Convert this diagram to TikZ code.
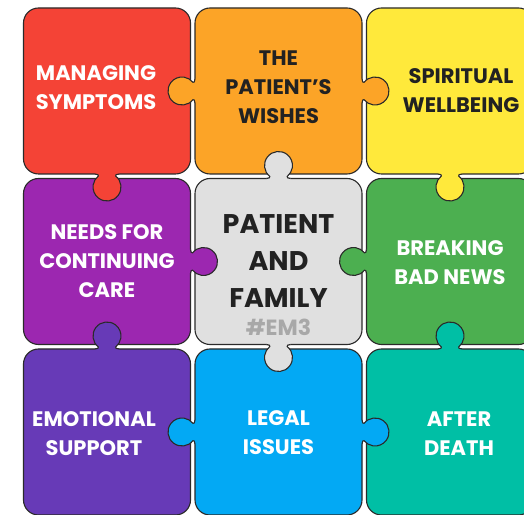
\documentclass[tikz,border=0pt]{standalone}
\usepackage{fontspec}
\setmainfont{Poppins}
\usepackage{tikz}
\usetikzlibrary{positioning}
\usepackage{xcolor}

\definecolor{piecered}{HTML}{F44336}
\definecolor{pieceorange}{HTML}{FCA427}
\definecolor{pieceyellow}{HTML}{FFE93B}
\definecolor{piecepurple}{HTML}{9C27B0}
\definecolor{piecegrey}{HTML}{E0E0E0}
\definecolor{piecegreen}{HTML}{4CAF50}
\definecolor{piecedeep}{HTML}{673AB7}
\definecolor{pieceblue}{HTML}{03A9F4}
\definecolor{pieceteal}{HTML}{00BFA5}
\definecolor{edgedark}{HTML}{2A2A2A}
\definecolor{textdark}{HTML}{222222}
\definecolor{taggrey}{HTML}{A8A8A8}

% tab sticking out of a piece: colour, anchor on the edge, rotation
\newcommand{\knob}[3]{%
  \begin{scope}[shift={(#2)}, rotate=#3]
    \fill[#1] (-12,-2) -- (-12,0) .. controls (-10,0) and (-7.5,1.1) .. (-8.66,2)
      arc[start angle=231.8, end angle=-51.8, radius=14]
      .. controls (7.5,1.1) and (10,0) .. (12,0) -- (12,-2) -- cycle;
    \draw[outline] (-12,0) .. controls (-10,0) and (-7.5,1.1) .. (-8.66,2)
      arc[start angle=231.8, end angle=-51.8, radius=14]
      .. controls (7.5,1.1) and (10,0) .. (12,0);
  \end{scope}}

\begin{document}
\begin{tikzpicture}[
    x=1pt, y=1pt,
    outline/.style={draw=edgedark, line width=1.1pt},
    piece/.style={
        rounded corners=15pt,
        outline,
        fill=#1,
        minimum width=167pt,
        minimum height=166pt,
        inner sep=0pt,
        outer sep=0pt,
    },
    lbl/.style={
        font=\bfseries\fontsize{21}{29}\selectfont,
        align=center,
        text=#1,
        inner sep=0pt,
    },
]

\useasboundingbox (0,0) rectangle (524,514);
\clip (0,0) rectangle (524,514);

% Pieces, row by row
\node[piece=piecered] (symptoms) at (107,423) {};
\node[piece=pieceorange, right=4.5pt of symptoms] (wishes) {};
\node[piece=pieceyellow, right=4.5pt of wishes] (spiritual) {};

\node[piece=piecepurple, below=4.5pt of symptoms] (care) {};
\node[piece=piecegrey, right=4.5pt of care] (patient) {};
\node[piece=piecegreen, right=4.5pt of patient] (badnews) {};

\node[piece=piecedeep, below=4.5pt of care] (emotional) {};
\node[piece=pieceblue, right=4.5pt of emotional] (legal) {};
\node[piece=pieceteal, right=4.5pt of legal] (afterdeath) {};

% Tabs
\knob{piecered}{symptoms.south}{180}
\knob{pieceorange}{wishes.west}{90}
\knob{pieceorange}{wishes.east}{-90}
\knob{pieceyellow}{spiritual.south}{180}
\knob{piecepurple}{care.east}{-90}
\knob{piecegrey}{patient.north}{0}
\knob{piecegrey}{patient.south}{180}
\knob{piecegreen}{badnews.west}{90}
\knob{piecedeep}{emotional.north}{0}
\knob{pieceblue}{legal.west}{90}
\knob{pieceblue}{legal.east}{-90}
\knob{pieceteal}{afterdeath.north}{0}

% Labels
\node[lbl=white] (symptoms-lbl) at ([xshift=-11pt, yshift=3pt]symptoms.center) {MANAGING\\SYMPTOMS};
\node[lbl=textdark] (wishes-lbl) at ([yshift=4pt]wishes.center) {THE\\PATIENT’S\\WISHES};
\node[lbl=textdark] (spiritual-lbl) at ([xshift=11pt]spiritual.center) {SPIRITUAL\\WELLBEING};
\node[lbl=white] (care-lbl) at (care.center) {NEEDS FOR\\CONTINUING\\CARE};
\node[lbl=textdark, font=\bfseries\fontsize{27}{37}\selectfont] (patient-lbl) at (patient.center) {PATIENT\\AND\\FAMILY};
\node[lbl=taggrey, font=\bfseries\fontsize{22}{26}\selectfont] (tag) at ([yshift=-66pt]patient.center) {\#EM3};
\node[lbl=white] (badnews-lbl) at ([yshift=-1pt]badnews.center) {BREAKING\\BAD NEWS};
\node[lbl=white] (emotional-lbl) at ([xshift=-13pt, yshift=-2pt]emotional.center) {EMOTIONAL\\SUPPORT};
\node[lbl=white] (legal-lbl) at ([yshift=-1pt]legal.center) {LEGAL\\ISSUES};
\node[lbl=white] (afterdeath-lbl) at ([xshift=9pt, yshift=-2pt]afterdeath.center) {AFTER\\DEATH};

\end{tikzpicture}
\end{document}
